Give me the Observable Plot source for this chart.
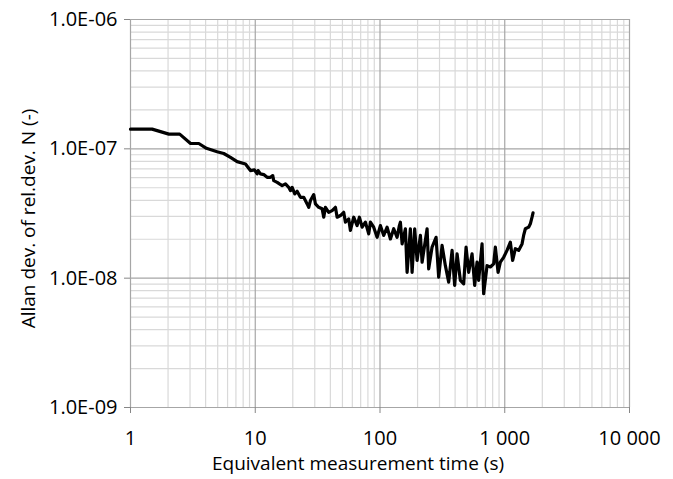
<!DOCTYPE html>
<html><head><meta charset="utf-8">
<script src="https://cdn.jsdelivr.net/npm/d3@7"></script>
<script src="https://cdn.jsdelivr.net/npm/@observablehq/plot@0.6"></script>
<style>body{margin:0;background:#fff}</style>
</head><body><div id="chart"></div>
<script>
const time = [1,1.49,2.03,2.48,3.03,3.53,4.06,4.95,5.59,6.33,7.16,8.35,9.15,9.85,10.36,10.55,11.0,11.7,12.45,13.24,13.81,14.07,14.98,15.63,16.43,17.46,18.55,19.14,19.76,20.73,21.66,23.02,24.47,26.06,26.84,27.7,29.43,30.37,32.27,34.37,35.4,36.52,38.81,41.33,43.93,45.33,48.16,51.18,52.82,56.14,57.93,61.55,65.54,68.38,71.88,76.38,81.21,83.79,89.03,94.8,100.7,107.1,114.0,121.2,128.8,137.1,143.0,145.7,150.4,159.8,164.9,175.2,180.8,189.7,198.3,210.8,217.5,238.5,245.6,261.5,281.5,295.4,314.5,334.2,355.3,378.3,396.9,414.9,440.9,468.6,489.8,513.8,547.0,574.0,599.8,617.8,657.8,677.5,721.4,766.6,814.8,840.8,884.0,921.9,979.9,1043,1109,1157,1216,1292,1376,1417,1463,1554,1604,1655,1686];
const allanDev = [1.42e-7,1.42e-7,1.30e-7,1.30e-7,1.10e-7,1.10e-7,1.01e-7,9.5e-8,9.2e-8,8.6e-8,7.96e-8,7.64e-8,6.79e-8,6.87e-8,6.40e-8,6.79e-8,6.40e-8,6.32e-8,6.02e-8,6.02e-8,6.21e-8,5.68e-8,5.51e-8,5.36e-8,5.20e-8,5.36e-8,5.04e-8,4.75e-8,5.04e-8,4.48e-8,4.70e-8,4.22e-8,4.22e-8,3.75e-8,3.53e-8,3.98e-8,4.43e-8,3.75e-8,3.53e-8,3.44e-8,2.96e-8,3.53e-8,3.23e-8,3.33e-8,3.53e-8,2.96e-8,3.05e-8,3.23e-8,2.71e-8,2.87e-8,2.34e-8,2.96e-8,2.55e-8,2.96e-8,2.48e-8,2.71e-8,2.20e-8,2.71e-8,2.48e-8,2.07e-8,2.55e-8,2.14e-8,2.48e-8,2.01e-8,2.41e-8,2.07e-8,2.55e-8,2.71e-8,1.84e-8,2.41e-8,1.11e-8,2.41e-8,1.11e-8,2.41e-8,1.37e-8,2.14e-8,1.33e-8,2.41e-8,1.18e-8,1.74e-8,2.07e-8,1.02e-8,1.79e-8,1.25e-8,9.31e-9,1.64e-8,8.78e-9,1.54e-8,9.60e-9,9.05e-9,1.74e-8,1.11e-8,1.54e-8,8.78e-9,1.33e-8,9.60e-9,1.84e-8,7.58e-9,1.25e-8,1.22e-8,1.29e-8,1.74e-8,1.11e-8,1.33e-8,1.45e-8,1.64e-8,1.90e-8,1.37e-8,1.69e-8,1.64e-8,1.84e-8,2.14e-8,2.41e-8,2.48e-8,2.63e-8,2.96e-8,3.20e-8];
const xTicks = [1,10,100,1000,10000];
const xTickLabels = ["1","10","100","1 000","10 000"];
const yTicks = [1e-9,1e-8,1e-7,1e-6];
const yTickLabels = ["1.0E-09","1.0E-08","1.0E-07","1.0E-06"];
const xTitle = "Equivalent measurement time (s)";
const yTitle = "Allan dev. of rel.dev. N (-)";

const data = time.map((t,i)=>({t, v: allanDev[i]}));
const minorX = d3.range(0,4).flatMap(e => d3.range(2,10).map(m => m*Math.pow(10,e)));
const minorY = d3.range(-9,-6).flatMap(e => d3.range(2,10).map(m => m*Math.pow(10,e)));

const chart = Plot.plot({
  width:673, height:479,
  marginLeft:130, marginRight:44, marginTop:19, marginBottom:72,
  style:{fontFamily:"'Open Sans', sans-serif", fontSize:"20px", color:"#000", background:"#fff"},
  x:{type:"log", domain:[1,10000]},
  y:{type:"log", domain:[1e-9,1e-6]},
  marks:[
    Plot.ruleX(minorX,{stroke:"#d9d9d9", strokeWidth:1.2}),
    Plot.ruleY(minorY,{stroke:"#d9d9d9", strokeWidth:1.2}),
    Plot.ruleX(xTicks,{stroke:"#a6a6a6", strokeWidth:1.2}),
    Plot.ruleY(yTicks,{stroke:"#a6a6a6", strokeWidth:1.2}),
    Plot.axisX({ticks:xTicks, tickFormat:d => xTickLabels[xTicks.indexOf(d)], tickSize:6, tickPadding:17, stroke:"#868686", fill:"#000", fontSize:20, label:null}),
    Plot.axisY({ticks:yTicks, tickFormat:d => yTickLabels[yTicks.findIndex(v => Math.abs(v-d)/v < 1e-6)], tickSize:6, tickPadding:7, stroke:"#868686", fill:"#000", fontSize:20, label:null}),
    Plot.text([xTitle], {frameAnchor:"bottom", dy:62, dx:-22, fill:"#000", fontSize:19}),
    Plot.text([yTitle], {frameAnchor:"left", rotate:-90, dx:-102, dy:5, textAnchor:"middle", fill:"#000", fontSize:19}),
    Plot.line(data,{x:"t", y:"v", stroke:"#000", strokeWidth:3.2, strokeLinejoin:"round"})
  ]
});
document.getElementById("chart").appendChild(chart);
</script>
</body></html>
